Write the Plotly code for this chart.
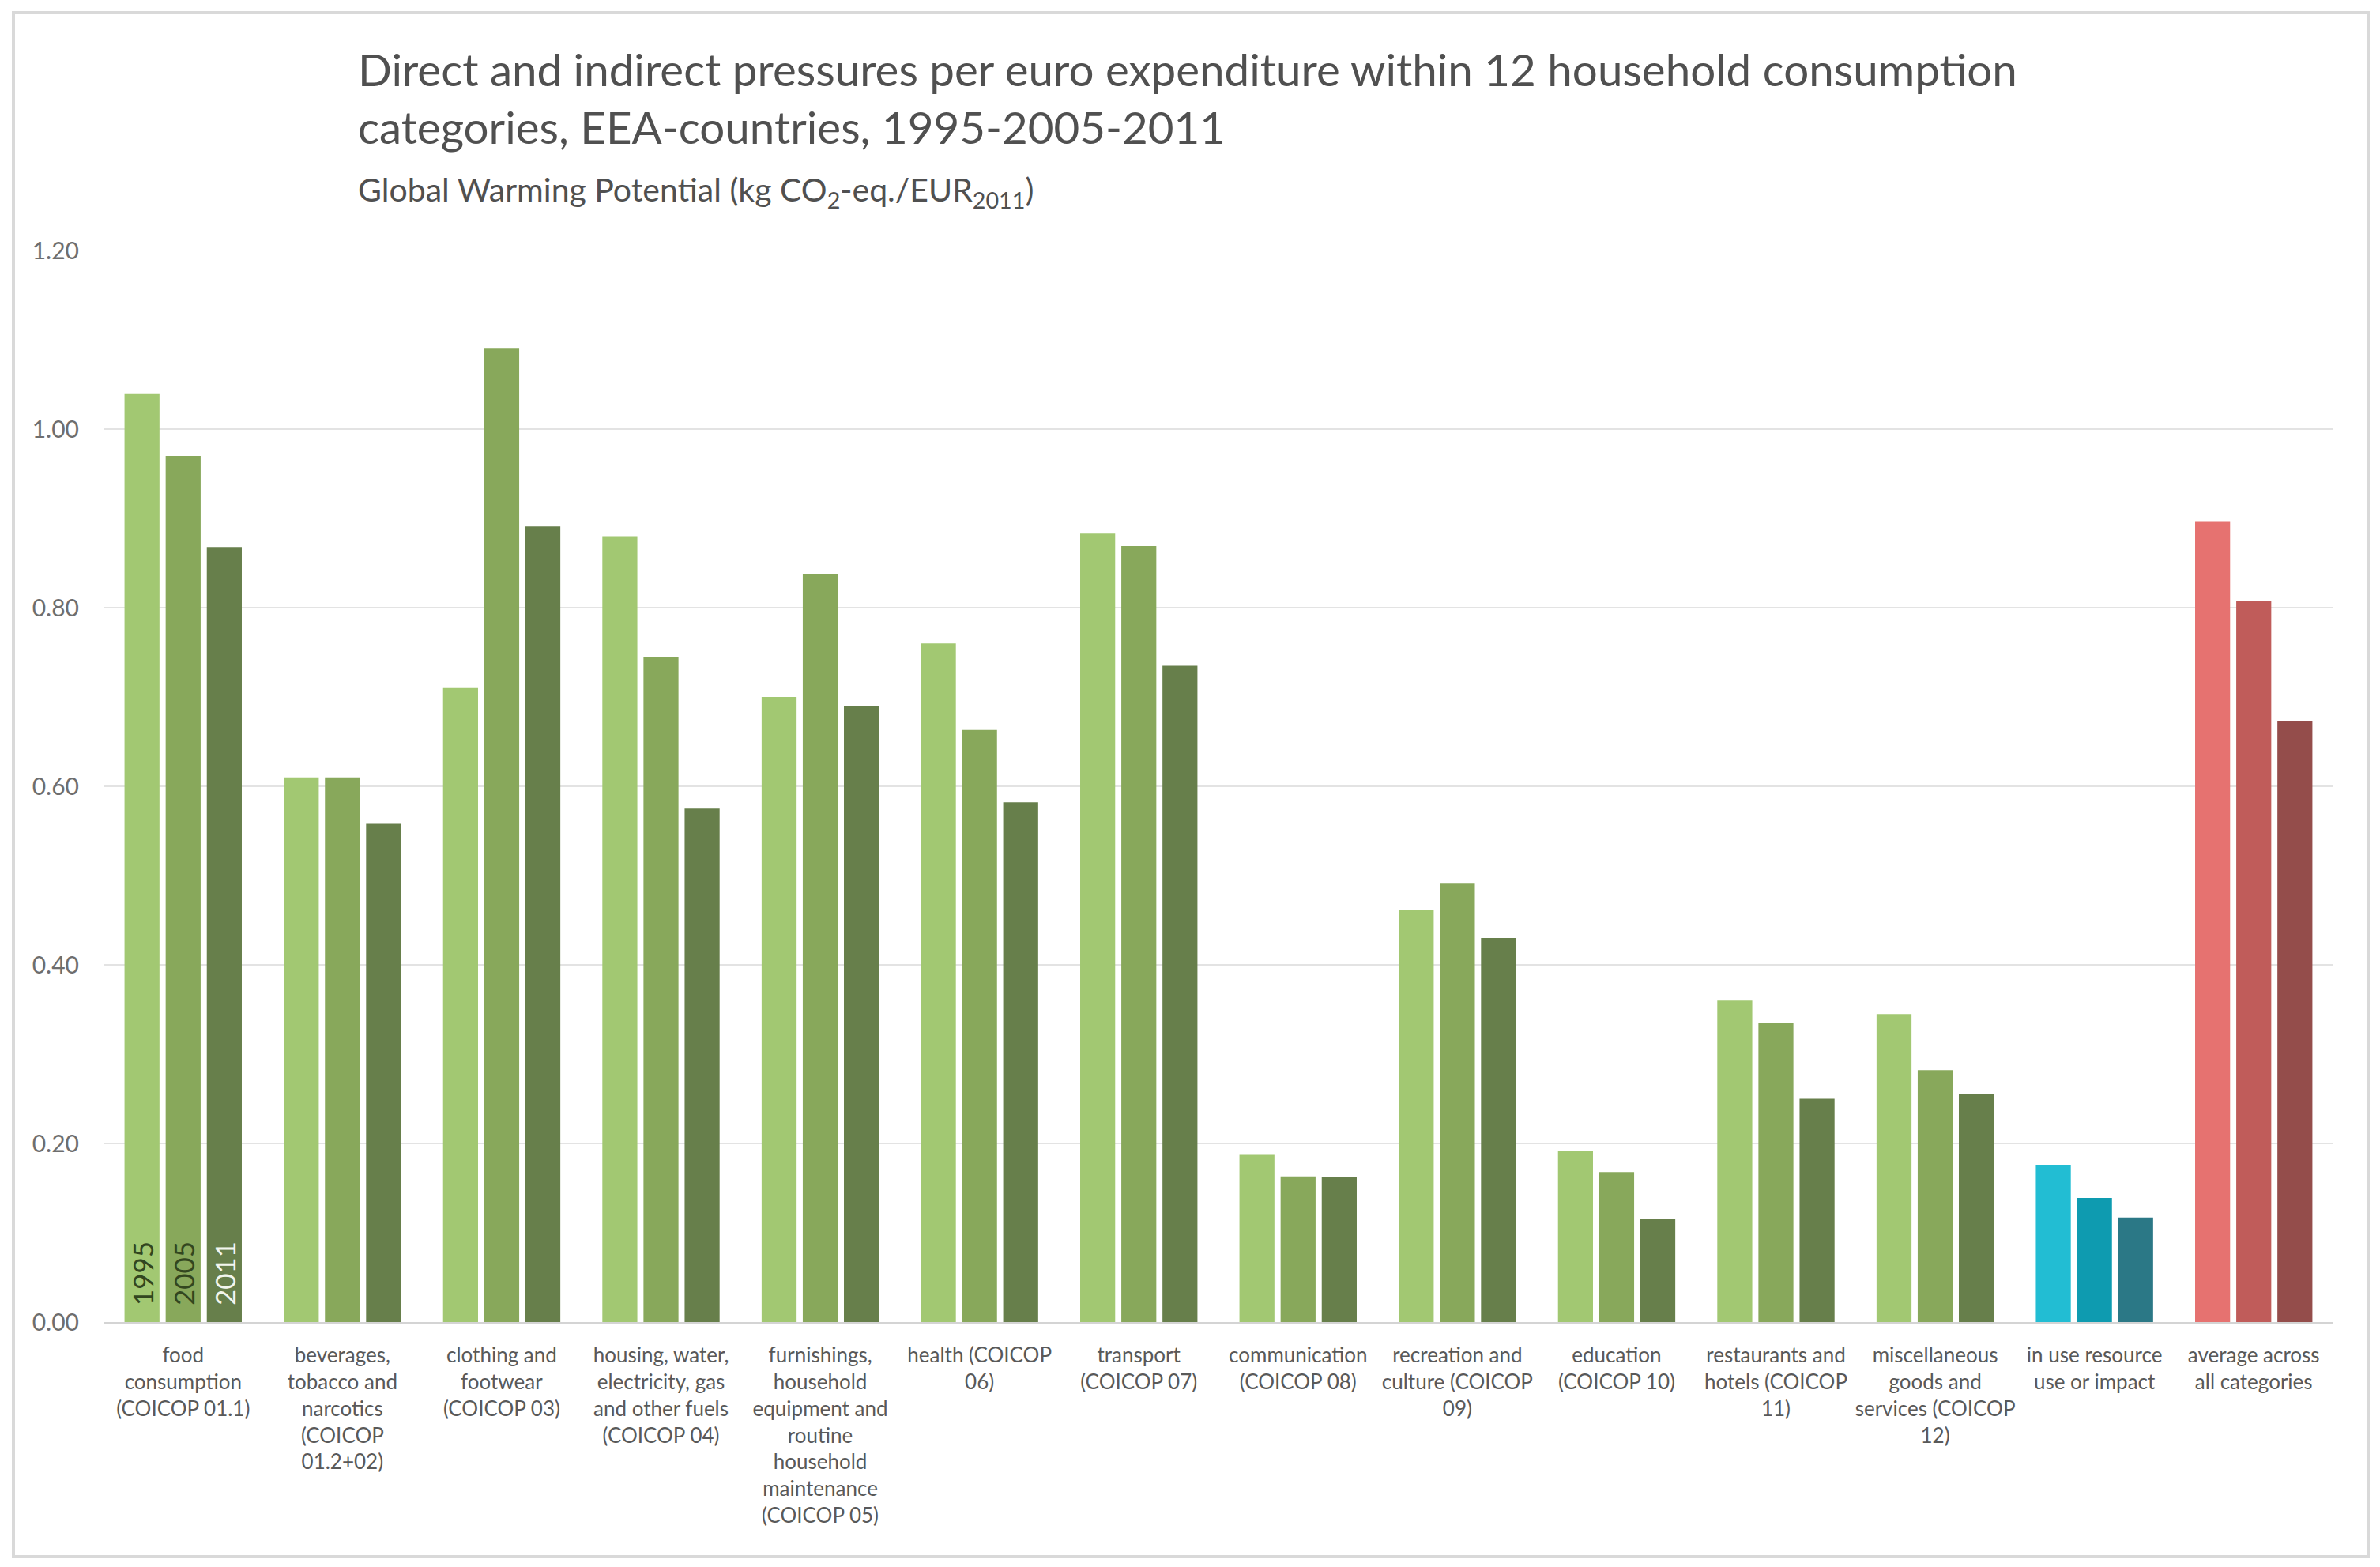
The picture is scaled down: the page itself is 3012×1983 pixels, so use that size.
import plotly.graph_objects as go

categories = [
    "food<br>consumption<br>(COICOP 01.1)",
    "beverages,<br>tobacco and<br>narcotics<br>(COICOP<br>01.2+02)",
    "clothing and<br>footwear<br>(COICOP 03)",
    "housing, water,<br>electricity, gas<br>and other fuels<br>(COICOP 04)",
    "furnishings,<br>household<br>equipment and<br>routine<br>household<br>maintenance<br>(COICOP 05)",
    "health (COICOP<br>06)",
    "transport<br>(COICOP 07)",
    "communication<br>(COICOP 08)",
    "recreation and<br>culture (COICOP<br>09)",
    "education<br>(COICOP 10)",
    "restaurants and<br>hotels (COICOP<br>11)",
    "miscellaneous<br>goods and<br>services (COICOP<br>12)",
    "in use resource<br>use or impact",
    "average across<br>all categories",
]

years = ["1995", "2005", "2011"]

values_1995 = [1.04, 0.61, 0.71, 0.88, 0.70, 0.76, 0.883, 0.188, 0.461, 0.192, 0.360, 0.345, 0.176, 0.897]
values_2005 = [0.97, 0.61, 1.09, 0.745, 0.838, 0.663, 0.869, 0.163, 0.491, 0.168, 0.335, 0.282, 0.139, 0.808]
values_2011 = [0.868, 0.558, 0.891, 0.575, 0.690, 0.582, 0.735, 0.162, 0.430, 0.116, 0.250, 0.255, 0.117, 0.673]

green = ["#A2C872", "#88A85B", "#677F4B"]
teal = ["#22BDD3", "#0E9BB0", "#2B7886"]
red = ["#E67270", "#C05C5A", "#944D4B"]

year_text_colors = ["#33461F", "#33461F", "#F2F6EE"]

series = [values_1995, values_2005, values_2011]

W, H = 3012, 1983
OFF = 8  # page body margin offset
L, T = 131 - OFF, 317 - OFF
PW, PH = 2822, 1356
R, B = W - L - PW, H - T - PH


def px_x(px):
    return (px - OFF - L) / PW


def px_y(py):
    return (T + PH - (py - OFF)) / PH


fig = go.Figure()
n = len(categories)
for i, (yr, vals) in enumerate(zip(years, series)):
    colors = [green[i]] * (n - 2) + [teal[i], red[i]]
    texts = ["\u00a0\u00a0" + yr] + [""] * (n - 1)
    fig.add_trace(go.Bar(
        x=categories,
        y=vals,
        name=yr,
        marker=dict(color=colors, line=dict(width=0)),
        text=texts,
        textposition="inside",
        insidetextanchor="start",
        textangle=-90,
        textfont=dict(family="Lato", size=35, color=year_text_colors[i]),
        hoverinfo="x+y+name",
    ))

fig.update_layout(
    width=W,
    height=H,
    paper_bgcolor="white",
    plot_bgcolor="white",
    barmode="group",
    bargap=0.225,
    bargroupgap=0.15,
    showlegend=False,
    uniformtext=dict(minsize=35, mode="show"),
    margin=dict(l=L, r=R, t=T, b=B),
    annotations=[
        dict(
            text="Direct and indirect pressures per euro expenditure within 12 household consumption<br>categories, EEA-countries, 1995-2005-2011",
            xref="paper", yref="paper",
            x=px_x(451), y=px_y(124),
            xanchor="left", yanchor="middle", align="left",
            showarrow=False,
            font=dict(family="Lato", size=56.5, color="#505050"),
        ),
        dict(
            text="Global Warming Potential (kg CO<sub>2</sub>-eq./EUR<sub>2011</sub>)",
            xref="paper", yref="paper",
            x=px_x(451), y=px_y(242),
            xanchor="left", yanchor="middle",
            showarrow=False,
            font=dict(family="Lato", size=41, color="#505050"),
        ),
    ],
    shapes=[
        dict(
            type="rect", xref="paper", yref="paper",
            x0=px_x(17), x1=px_x(2997),
            y0=px_y(1970), y1=px_y(16),
            line=dict(color="#D9D9D9", width=4),
            fillcolor="rgba(0,0,0,0)",
            layer="below",
        )
    ],
)

fig.update_yaxes(
    range=[0, 1.2],
    dtick=0.2,
    tickformat=".2f",
    showgrid=True,
    gridcolor="#E3E3E3",
    gridwidth=2,
    zeroline=False,
    showline=False,
    tickfont=dict(family="Lato", size=30, color="#6E6E6E"),
    ticklabelstandoff=30,
)

fig.update_xaxes(
    showline=True,
    linecolor="#D4D4D4",
    linewidth=3,
    showgrid=False,
    tickfont=dict(family="Lato", size=26, color="#595959"),
    ticklabelstandoff=17,
    tickangle=0,
)

fig.write_html("out.html")
